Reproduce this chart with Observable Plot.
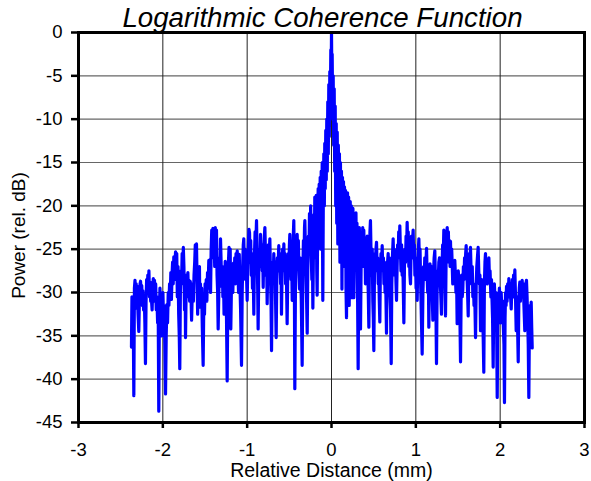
<!DOCTYPE html>
<html>
<head>
<meta charset="utf-8">
<script src="https://cdn.jsdelivr.net/npm/d3@7"></script>
<script src="https://cdn.jsdelivr.net/npm/@observablehq/plot@0.6"></script>
<style>
  html, body { margin: 0; padding: 0; background: #fff; }
  body { width: 591px; height: 481px; overflow: hidden; font-family: "Liberation Sans", Arial, sans-serif; }
  #title { height: 33px; margin-bottom: -13px; padding-left: 54px; padding-top: 3px; text-align: center; font-style: italic;
           font-size: 27.7px; line-height: 30px; box-sizing: border-box; position: relative; z-index: 2; white-space: nowrap; }
  #chart svg { display: block; }
</style>
</head>
<body>
<div id="title">Logarithmic Coherence Function</div>
<div id="chart"></div>
<script>
// Relative distance (mm) of each sample of the trace
const distance = [
  // far left
  -2.372,-2.366,-2.360,-2.352,-2.344,-2.337,-2.330,-2.323,-2.316,-2.309,
  -2.302,-2.294,-2.285,-2.277,-2.270,-2.264,-2.257,-2.250,-2.243,-2.236,
  -2.228,-2.220,-2.213,-2.206,-2.199,-2.192,-2.185,-2.178,-2.171,-2.165,
  -2.158,-2.151,-2.144,-2.137,-2.127,-2.120,-2.113,-2.106,-2.099,-2.092,
  -2.085,-2.078,-2.070,-2.062,-2.055,-2.048,-2.041,-2.034,-2.027,-2.020,
  -2.013,-2.006,-1.999,
  // -2 .. -1.2
  -1.992,-1.985,-1.976,-1.968,-1.960,-1.952,-1.944,-1.936,-1.928,-1.920,
  -1.912,-1.905,-1.898,-1.891,-1.884,-1.877,-1.870,-1.863,-1.856,-1.849,
  -1.842,-1.835,-1.828,-1.820,-1.812,-1.805,-1.799,-1.792,-1.785,-1.778,
  -1.771,-1.764,-1.757,-1.750,-1.743,-1.736,-1.731,-1.724,-1.717,-1.710,
  -1.703,-1.696,-1.689,-1.682,-1.675,-1.667,-1.659,-1.652,-1.645,-1.638,
  -1.630,-1.622,-1.615,-1.608,-1.601,-1.594,-1.587,-1.580,-1.573,-1.566,
  -1.561,-1.554,-1.547,-1.540,-1.532,-1.522,-1.514,-1.506,-1.499,-1.492,
  -1.485,-1.478,-1.470,-1.463,-1.455,-1.448,-1.441,-1.434,-1.427,-1.420,
  -1.413,-1.406,-1.399,-1.392,-1.385,-1.378,-1.371,-1.364,-1.357,-1.350,
  -1.344,-1.337,-1.330,-1.323,-1.316,-1.309,-1.302,-1.295,-1.288,-1.281,
  -1.274,-1.267,-1.260,-1.253,-1.245,-1.237,-1.229,-1.222,-1.215,-1.208,-1.201,
  // -1.2 .. -0.17
  -1.194,-1.186,-1.178,-1.170,-1.162,-1.155,-1.147,-1.140,-1.132,-1.125,
  -1.118,-1.110,-1.102,-1.094,-1.086,-1.078,-1.067,-1.059,-1.052,-1.046,
  -1.040,-1.033,-1.026,-1.019,-1.012,-1.005,-1.000,-0.993,-0.986,-0.979,
  -0.972,-0.965,-0.958,-0.951,-0.944,-0.937,-0.929,-0.921,-0.914,-0.906,
  -0.899,-0.889,-0.882,-0.876,-0.870,-0.863,-0.856,-0.849,-0.842,-0.835,
  -0.828,-0.821,-0.815,-0.810,-0.803,-0.796,-0.790,-0.783,-0.776,-0.769,
  -0.763,-0.756,-0.749,-0.742,-0.736,-0.731,-0.724,-0.717,-0.711,-0.704,
  -0.697,-0.690,-0.684,-0.677,-0.670,-0.663,-0.656,-0.649,-0.642,-0.635,
  -0.625,-0.618,-0.611,-0.604,-0.598,-0.593,-0.586,-0.579,-0.572,-0.565,
  -0.558,-0.551,-0.544,-0.537,-0.530,-0.526,-0.519,-0.512,-0.505,-0.499,
  -0.494,-0.487,-0.480,-0.473,-0.466,-0.460,-0.453,-0.447,-0.441,-0.435,
  -0.428,-0.421,-0.414,-0.407,-0.400,-0.393,-0.386,-0.379,-0.372,-0.365,
  -0.358,-0.348,-0.340,-0.333,-0.326,-0.320,-0.316,-0.309,-0.302,-0.295,
  -0.288,-0.281,-0.274,-0.267,-0.261,-0.254,-0.247,-0.240,-0.233,-0.227,
  -0.221,-0.214,-0.208,-0.203,-0.198,-0.192,-0.186,-0.181,-0.175,-0.170,
  // central peak
  -0.164,-0.158,-0.152,-0.146,-0.140,-0.134,-0.128,-0.122,-0.116,-0.110,
  -0.103,-0.097,-0.091,-0.085,-0.080,-0.074,-0.068,-0.062,-0.056,-0.050,
  -0.044,-0.038,-0.032,-0.026,-0.020,-0.014,-0.008,-0.004,0,0.004,
  0.008,0.014,0.020,0.026,0.032,0.038,0.044,0.050,0.056,0.062,
  0.068,0.075,0.081,0.088,0.094,0.100,0.106,0.112,0.118,0.124,
  0.130,0.136,0.142,0.148,0.154,0.160,0.166,0.172,0.178,0.184,
  0.190,0.196,0.203,0.210,0.216,0.222,0.228,0.235,0.242,0.248,0.254,
  // 0.26 .. 1.15
  0.260,0.265,0.272,0.278,0.284,0.290,0.296,0.302,0.309,0.316,
  0.323,0.330,0.337,0.344,0.351,0.357,0.364,0.370,0.377,0.383,
  0.390,0.396,0.403,0.410,0.416,0.423,0.430,0.436,0.443,0.450,
  0.456,0.462,0.469,0.476,0.483,0.490,0.496,0.502,0.509,0.515,
  0.521,0.527,0.534,0.541,0.547,0.554,0.560,0.567,0.573,0.580,
  0.587,0.594,0.601,0.608,0.615,0.622,0.628,0.635,0.642,0.652,
  0.659,0.665,0.672,0.679,0.686,0.693,0.700,0.708,0.715,0.722,
  0.731,0.738,0.744,0.751,0.758,0.765,0.771,0.778,0.784,0.791,
  0.797,0.804,0.810,0.817,0.824,0.831,0.838,0.845,0.852,0.858,
  0.865,0.871,0.878,0.884,0.891,0.897,0.904,0.910,0.917,0.924,
  0.930,0.937,0.943,0.949,0.956,0.962,0.968,0.975,0.982,0.989,
  0.996,1.003,1.010,1.016,1.023,1.030,1.036,1.043,1.050,1.057,
  1.064,1.075,1.084,1.092,1.099,1.106,1.113,1.120,1.127,1.134,1.141,1.148,1.154,
  // 1.16 .. right end
  1.161,1.168,1.174,1.181,1.188,1.195,1.202,1.209,1.217,1.225,
  1.232,1.238,1.245,1.252,1.259,1.266,1.273,1.281,1.288,1.295,
  1.304,1.311,1.318,1.325,1.332,1.338,1.345,1.352,1.359,1.366,
  1.372,1.379,1.386,1.393,1.400,1.406,1.411,1.418,1.425,1.431,
  1.438,1.445,1.452,1.462,1.469,1.476,1.483,1.490,1.497,1.503,
  1.510,1.517,1.523,1.530,1.537,1.543,1.550,1.557,1.564,1.571,
  1.578,1.584,1.591,1.597,1.604,1.610,1.615,1.621,1.628,1.634,
  1.641,1.648,1.655,1.662,1.669,1.676,1.683,1.690,1.697,1.708,
  1.716,1.723,1.730,1.739,1.746,1.753,1.760,1.767,1.774,1.781,
  1.788,1.795,1.806,1.813,1.820,1.826,1.833,1.840,1.847,1.853,
  1.860,1.866,1.873,1.880,1.890,1.897,1.904,1.910,1.917,1.924,
  1.931,1.938,1.945,1.952,1.958,1.965,1.972,1.978,1.984,1.991,
  1.998,2.005,2.012,2.018,2.024,2.031,2.038,2.045,2.051,2.058,
  2.064,2.070,2.075,2.082,2.089,2.096,2.103,2.110,2.117,2.124,
  2.131,2.138,2.145,2.152,2.159,2.166,2.174,2.181,2.190,2.197,
  2.204,2.214,2.221,2.227,2.233,2.240,2.247,2.254,2.261,2.268,
  2.275,2.282,2.292,2.299,2.305,2.312,2.319,2.326,2.333,2.340,
  2.347,2.354,2.361,2.368,2.374,2.380
];
// Power (rel. dB), same order as distance
const power = [
  // far left
  -36.3,-30.5,-33.0,-31.0,-41.9,-29.5,-28.6,-30.5,-29.0,-31.8,
  -29.3,-32.5,-34.5,-30.5,-29.0,-28.7,-30.0,-29.2,-31.5,-29.8,
  -32.0,-30.5,-33.5,-38.2,-31.0,-28.5,-30.0,-28.0,-29.5,-27.5,
  -30.5,-28.8,-31.0,-30.5,-32.0,-29.5,-28.4,-30.0,-28.6,-31.0,
  -29.0,-32.0,-30.5,-33.5,-31.7,-43.7,-32.0,-29.5,-33.0,-30.5,
  -35.0,-31.7,-30.0,
  // -2 .. -1.2
  -33.0,-31.5,-36.0,-41.7,-35.0,-31.4,-33.5,-30.0,-31.5,-29.0,
  -30.5,-27.7,-30.8,-28.0,-26.5,-29.0,-25.9,-28.5,-26.5,-25.3,
  -28.0,-25.5,-30.5,-27.0,-32.5,-35.0,-38.8,-30.0,-27.5,-29.0,
  -25.5,-28.0,-24.8,-27.0,-32.0,-28.0,-35.2,-30.0,-28.0,-29.5,
  -27.7,-30.5,-28.6,-31.0,-28.7,-30.0,-33.2,-30.5,-29.0,-31.0,
  -28.0,-26.5,-24.5,-27.0,-24.4,-28.5,-32.5,-28.0,-29.5,-27.0,
  -31.7,-29.0,-31.5,-29.5,-34.0,-38.4,-31.0,-32.5,-29.0,-30.5,
  -28.5,-31.0,-27.7,-29.5,-26.3,-28.5,-26.2,-30.0,-25.0,-22.8,
  -26.0,-22.6,-25.5,-23.0,-27.0,-22.5,-25.0,-22.8,-28.0,-30.0,
  -34.2,-30.5,-26.0,-28.5,-23.8,-26.5,-29.3,-27.0,-30.5,-28.0,
  -32.5,-29.0,-26.4,-29.5,-33.0,-40.2,-30.0,-26.5,-24.8,-27.5,-25.0,
  // -1.2 .. -0.17
  -34.2,-29.0,-27.0,-30.0,-26.6,-28.5,-26.0,-29.0,-25.5,-28.0,
  -25.2,-27.5,-30.0,-25.6,-29.0,-32.0,-38.4,-30.0,-26.5,-24.5,
  -23.8,-27.0,-25.0,-28.5,-26.0,-29.0,-30.9,-27.0,-24.5,-22.7,
  -23.1,-26.5,-24.0,-28.0,-25.5,-29.5,-27.0,-32.5,-26.0,-23.0,
  -25.0,-21.7,-26.0,-29.0,-34.2,-28.0,-25.0,-27.0,-23.3,-26.5,
  -24.5,-27.5,-26.0,-29.4,-25.0,-23.5,-22.5,-25.5,-28.0,-26.0,
  -31.3,-27.0,-24.5,-27.0,-25.0,-23.8,-28.0,-31.0,-36.7,-29.0,
  -26.5,-28.0,-25.5,-28.5,-26.5,-31.0,-35.2,-28.5,-26.0,-27.5,
  -24.6,-27.0,-25.5,-29.0,-27.0,-32.5,-27.5,-25.0,-27.0,-24.4,
  -27.5,-25.5,-29.0,-26.5,-31.0,-33.6,-28.0,-25.5,-27.0,-24.5,
  -23.3,-26.0,-28.5,-25.5,-30.9,-26.0,-23.5,-21.7,-27.0,-41.1,
  -30.0,-25.5,-27.0,-23.3,-26.0,-24.0,-27.5,-29.6,-26.0,-28.0,
  -31.0,-38.4,-28.0,-24.0,-26.5,-22.5,-21.7,-25.0,-28.0,-31.0,
  -34.7,-27.0,-23.5,-25.5,-20.9,-24.0,-20.0,-26.0,-28.5,-24.5,
  -31.8,-25.0,-21.0,-24.0,-19.0,-23.5,-26.0,-18.8,-27.5,-30.3,
  // central peak
  -22.0,-18.0,-24.0,-17.5,-22.0,-16.7,-25.0,-16.0,-21.0,-15.0,
  -30.9,-19.0,-14.0,-20.0,-12.8,-18.0,-11.3,-17.0,-10.0,-16.0,
  -8.0,-14.0,-6.0,-12.0,-4.5,-9.0,-2.0,-6.0,0,-5.0,
  -2.5,-10.0,-5.0,-13.0,-6.5,-16.0,-8.5,-20.0,-10.5,-22.0,
  -11.5,-24.4,-13.0,-20.0,-14.0,-26.5,-15.0,-22.0,-16.0,-29.6,
  -16.7,-24.0,-17.2,-27.0,-17.8,-23.0,-18.2,-29.5,-32.9,-24.0,
  -18.5,-27.0,-19.0,-31.5,-22.0,-19.5,-26.0,-20.0,-30.6,-24.0,-20.3,
  // 0.26 .. 1.15
  -26.0,-30.6,-25.0,-21.0,-24.0,-20.8,-27.0,-22.0,-30.0,-38.8,
  -28.0,-22.5,-26.0,-34.2,-27.0,-23.5,-25.5,-22.5,-27.0,-22.8,
  -26.5,-24.0,-29.0,-25.0,-27.5,-23.5,-28.0,-30.0,-34.0,-26.0,
  -23.0,-21.7,-25.5,-28.0,-25.0,-31.0,-33.0,-36.7,-28.0,-25.5,
  -27.5,-25.0,-24.2,-27.5,-26.0,-29.0,-27.0,-31.0,-33.4,-27.0,
  -25.5,-27.0,-24.6,-27.5,-26.0,-29.0,-26.5,-30.0,-28.0,-34.7,
  -28.0,-26.5,-25.5,-28.5,-26.0,-30.0,-32.0,-38.2,-29.0,-26.0,
  -23.8,-26.5,-25.0,-28.0,-26.0,-29.0,-30.9,-27.0,-24.5,-26.0,
  -23.0,-25.5,-22.3,-25.0,-27.5,-24.5,-28.0,-26.0,-30.0,-33.5,
  -27.0,-25.0,-26.5,-23.5,-25.0,-21.9,-25.0,-23.0,-27.0,-25.0,
  -28.0,-29.0,-25.5,-23.5,-26.0,-24.0,-22.8,-26.0,-24.5,-28.0,
  -26.0,-29.5,-27.0,-30.9,-26.5,-25.0,-23.8,-27.0,-25.0,-29.0,
  -32.0,-37.1,-30.0,-27.0,-28.5,-26.0,-28.5,-26.5,-24.9,-28.0,-30.0,-27.0,-34.0,
  // 1.16 .. right end
  -29.0,-26.7,-27.5,-29.5,-27.0,-30.5,-33.2,-28.0,-26.0,-25.2,
  -28.5,-31.5,-38.2,-30.0,-27.5,-28.5,-26.5,-26.0,-28.5,-30.0,
  -32.5,-27.0,-24.5,-26.0,-22.8,-26.5,-29.0,-32.7,-26.0,-23.5,
  -22.5,-25.5,-23.0,-26.5,-24.0,-27.0,-24.1,-27.0,-25.0,-26.7,
  -29.0,-27.0,-28.5,-26.3,-28.0,-30.0,-28.0,-33.6,-29.0,-27.5,
  -28.6,-31.0,-33.0,-38.0,-30.5,-28.0,-30.5,-29.7,-27.0,-28.5,
  -26.0,-28.0,-25.5,-24.6,-27.5,-29.0,-30.5,-32.7,-27.0,-25.5,
  -27.0,-24.8,-27.5,-29.0,-27.0,-30.5,-29.0,-31.5,-29.5,-35.2,
  -29.0,-27.0,-26.0,-24.8,-27.5,-29.0,-28.0,-34.4,-30.0,-28.5,
  -31.0,-33.0,-39.2,-29.0,-26.5,-25.5,-28.0,-26.5,-29.0,-27.0,
  -28.5,-26.0,-28.5,-27.5,-30.5,-28.5,-31.0,-33.0,-38.6,-31.0,
  -29.0,-30.5,-32.7,-30.0,-33.5,-42.1,-33.0,-30.5,-31.5,-29.5,
  -31.0,-33.5,-30.0,-31.5,-32.7,-31.0,-34.0,-36.0,-42.7,-33.0,
  -30.0,-31.5,-29.3,-31.0,-29.0,-30.5,-28.4,-30.5,-29.0,-30.5,
  -31.9,-29.5,-28.5,-30.5,-28.0,-29.5,-27.4,-30.0,-34.4,-30.5,
  -32.5,-38.0,-31.0,-29.5,-28.8,-31.0,-29.0,-30.5,-28.6,-30.0,
  -29.0,-31.5,-34.4,-30.5,-29.0,-28.6,-30.5,-33.0,-36.0,-42.1,
  -33.0,-31.5,-33.5,-31.1,-34.0,-36.4
];
const xTicks = [-3, -2, -1, 0, 1, 2, 3];
const yTicks = [0, -5, -10, -15, -20, -25, -30, -35, -40, -45];
const xGrid = [-2, -1, 0, 1, 2];
const yGrid = [-5, -10, -15, -20, -25, -30, -35, -40];
const xLabel = "Relative Distance (mm)";
const yLabel = "Power (rel. dB)";

const n = Math.min(distance.length, power.length);
const data = distance.slice(0, n).map((d, i) => ({distance: d, power: power[i]}));

const chart = Plot.plot({
  width: 591,
  height: 461,
  marginTop: 12,
  marginBottom: 59,
  marginLeft: 78,
  marginRight: 7,
  style: {fontFamily: "'Liberation Sans', Arial, sans-serif", fontSize: "18.5px", color: "#000", background: "#fff"},
  x: {domain: [-3, 3]},
  y: {domain: [-45, 0]},
  marks: [
    Plot.ruleY(yGrid, {stroke: "#666", strokeWidth: 1.2}),
    Plot.ruleX(xGrid, {stroke: "#222", strokeWidth: 1}),
    Plot.line(data, {x: "distance", y: "power", stroke: "#0000ff", strokeWidth: 3.2, strokeLinejoin: "round", strokeLinecap: "round"}),
    Plot.frame({stroke: "#000", strokeWidth: 3}),
    Plot.axisX({ticks: xTicks, tickSize: 6, tickPadding: 14, tickFormat: d => String(d), label: null, strokeWidth: 2.5, fontSize: 18.5}),
    Plot.axisY({ticks: yTicks, tickSize: 7, tickPadding: 9, tickFormat: d => String(d), label: null, strokeWidth: 2.5, fontSize: 18.5}),
    Plot.text([xLabel], {frameAnchor: "bottom", dy: 48, text: d => d, fontSize: 19.5, textAnchor: "middle", lineAnchor: "middle"}),
    Plot.text([yLabel], {frameAnchor: "left", dx: -60, dy: 8, rotate: -90, text: d => d, fontSize: 19, textAnchor: "middle", lineAnchor: "middle"})
  ]
});
document.getElementById("chart").appendChild(chart);
</script>
</body>
</html>
